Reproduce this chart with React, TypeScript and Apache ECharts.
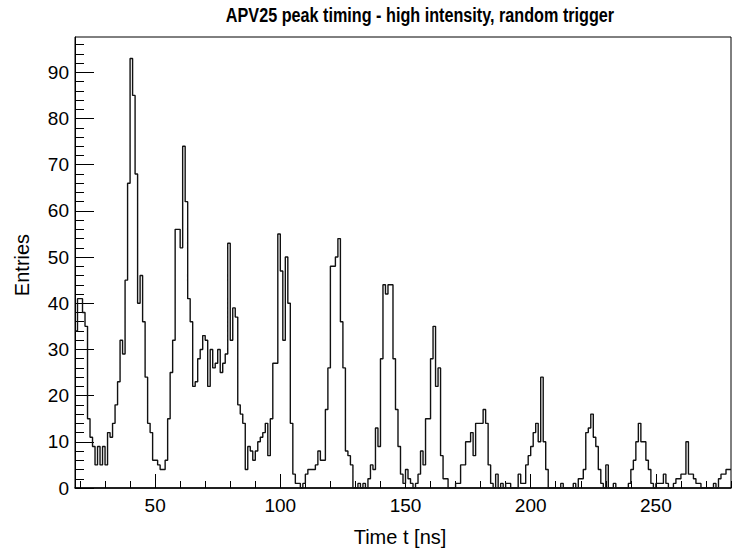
import React, { useEffect, useRef } from "react";
import * as echarts from "echarts";

// Histogram: 1 ns bins from 18 ns to 280 ns (262 bins)
const binStart = 18;
const binEnd = 280;
const counts: number[] = [
  34, 41, 41, 38, 35, 15, 11, 9, 5, 9, // 18-27
  5, 9, 5, 12, 11, 14, 18, 23, 32, 29, // 28-37
  45, 66, 93, 85, 68, 40, 46, 36, 24, 14, // 38-47
  12, 6, 6, 5, 4, 4, 6, 15, 25, 32, // 48-57
  56, 56, 52, 74, 62, 41, 36, 22, 23, 28, // 58-67
  30, 33, 32, 22, 30, 26, 27, 30, 25, 27, // 68-77
  29, 53, 32, 39, 37, 18, 16, 14, 4, 9, // 78-87
  8, 6, 8, 10, 11, 12, 14, 7, 15, 27, // 88-97
  27, 55, 47, 32, 50, 40, 14, 3, 1, 1, // 98-107
  0, 1, 3, 4, 4, 4, 5, 8, 6, 6, // 108-117
  17, 26, 48, 48, 50, 54, 36, 26, 8, 7, // 118-127
  5, 0, 0, 1, 0, 1, 0, 2, 5, 4, // 128-137
  13, 9, 28, 44, 42, 44, 44, 28, 17, 9, // 138-147
  3, 1, 4, 2, 1, 0, 1, 3, 8, 5, // 148-157
  15, 15, 28, 35, 22, 26, 7, 2, 2, 0, // 158-167
  0, 0, 1, 1, 5, 5, 10, 10, 12, 7, // 168-177
  14, 14, 14, 17, 14, 5, 1, 0, 3, 0, // 178-187
  1, 0, 1, 1, 0, 0, 0, 3, 1, 1, // 188-197
  5, 7, 9, 12, 14, 10, 24, 10, 4, 0, // 198-207
  0, 0, 0, 0, 1, 0, 0, 0, 0, 1, // 208-217
  0, 2, 2, 4, 12, 13, 16, 11, 9, 4, // 218-227
  1, 0, 5, 0, 0, 1, 0, 0, 0, 0, // 228-237
  0, 1, 4, 6, 10, 14, 10, 10, 6, 4, // 238-247
  1, 0, 1, 1, 1, 3, 1, 0, 0, 1, // 248-257
  2, 2, 3, 3, 10, 3, 3, 2, 1, 1, // 258-267
  0, 0, 0, 0, 0, 1, 0, 2, 3, 3, // 268-277
  4, 4, // 278-279
];

const yMax = 97.65;
const xMajorTicks = [50, 100, 150, 200, 250];
const xMinorTicks = [20, 30, 40, 60, 70, 80, 90, 110, 120, 130, 140, 160, 170, 180, 190, 210, 220, 230, 240, 260, 270, 280];
const yMajorTicks = [0, 10, 20, 30, 40, 50, 60, 70, 80, 90];
const yMinorTicks = [
  2, 4, 6, 8, 12, 14, 16, 18, 22, 24, 26, 28, 32, 34, 36, 38, 42, 44, 46, 48,
  52, 54, 56, 58, 62, 64, 66, 68, 72, 74, 76, 78, 82, 84, 86, 88, 92, 94, 96,
];

const chartTitle = "APV25 peak timing - high intensity, random trigger";
const xTitle = "Time t [ns]";
const yTitle = "Entries";

const FONT = "'Liberation Sans', Arial, Helvetica, sans-serif";

export default function App() {
  const ref = useRef<HTMLDivElement>(null);

  useEffect(() => {
    if (!ref.current) return;
    const chart = echarts.init(ref.current, null, { renderer: "svg" });

    const data: [number, number][] = counts.map((c, i) => [binStart + i, c]);
    data.push([binEnd, counts[counts.length - 1]]);

    const L = 75;
    const T = 37;
    const R = 1;
    const B = 66;

    chart.setOption({
      animation: false,
      backgroundColor: "#ffffff",
      grid: {
        left: L,
        right: R,
        top: T,
        bottom: B,
        show: true,
        borderColor: "#000",
        borderWidth: 1,
        backgroundColor: "transparent",
      },
      xAxis: [
        {
          type: "value",
          min: binStart,
          max: binEnd,
          position: "bottom",
          axisLine: { show: true, lineStyle: { color: "#000", width: 1.5 } },
          axisTick: { show: true, inside: true, length: 14, customValues: xMajorTicks, lineStyle: { color: "#000", width: 1 } },
          axisLabel: {
            show: true,
            customValues: xMajorTicks,
            color: "#000",
            fontSize: 19,
            fontFamily: FONT,
            margin: 8,
          },
          splitLine: { show: false },
        },
        {
          type: "value",
          min: binStart,
          max: binEnd,
          position: "bottom",
          axisLine: { show: false },
          axisTick: { show: true, inside: true, length: 7, customValues: xMinorTicks, lineStyle: { color: "#000", width: 1 } },
          axisLabel: { show: false },
          splitLine: { show: false },
        },
      ],
      yAxis: [
        {
          type: "value",
          min: 0,
          max: yMax,
          position: "left",
          axisLine: { show: true, lineStyle: { color: "#000", width: 1 } },
          axisTick: { show: true, inside: true, length: 19, customValues: yMajorTicks, lineStyle: { color: "#000", width: 1 } },
          axisLabel: {
            show: true,
            customValues: yMajorTicks,
            color: "#000",
            fontSize: 19,
            fontFamily: FONT,
            margin: 6,
          },
          splitLine: { show: false },
        },
        {
          type: "value",
          min: 0,
          max: yMax,
          position: "left",
          axisLine: { show: false },
          axisTick: { show: true, inside: true, length: 9, customValues: yMinorTicks, lineStyle: { color: "#000", width: 1 } },
          axisLabel: { show: false },
          splitLine: { show: false },
        },
      ],
      series: [
        {
          type: "line",
          xAxisIndex: 0,
          yAxisIndex: 0,
          data,
          step: "end",
          showSymbol: false,
          symbol: "none",
          clip: true,
          lineStyle: { color: "#111", width: 1.4 },
          z: 3,
        },
      ],
      graphic: [
        {
          type: "text",
          x: 420,
          y: 15,
          scaleX: 0.81,
          style: {
            text: chartTitle,
            font: `bold 20px ${FONT}`,
            fill: "#000",
            textAlign: "center",
            textVerticalAlign: "middle",
          },
        },
        {
          type: "text",
          x: 400,
          y: 537,
          style: {
            text: xTitle,
            font: `20px ${FONT}`,
            fill: "#000",
            textAlign: "center",
            textVerticalAlign: "middle",
          },
        },
        {
          type: "text",
          x: 22,
          y: 265,
          rotation: Math.PI / 2,
          style: {
            text: yTitle,
            font: `20px ${FONT}`,
            fill: "#000",
            textAlign: "center",
            textVerticalAlign: "middle",
          },
        },
      ],
    });

    return () => chart.dispose();
  }, []);

  return (
    <div
      ref={ref}
      style={{ position: "fixed", left: 0, top: 0, width: 732, height: 554, background: "#fff" }}
    />
  );
}
